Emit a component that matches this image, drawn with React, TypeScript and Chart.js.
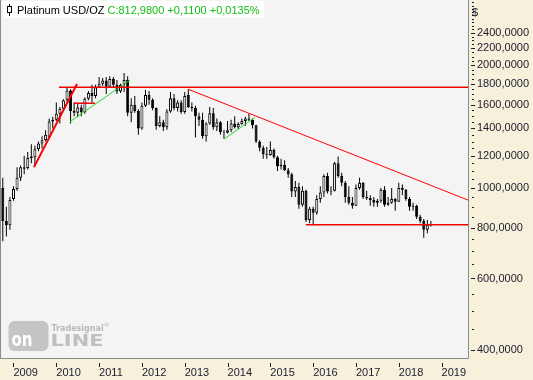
import React, { useEffect, useRef } from 'react';
import { Chart, registerables } from 'chart.js';

Chart.register(...registerables);

// ---- DATA (monthly OHLC, Oct 2008 .. Oct 2018) ----
const months = [
  '2008-10', '2008-11', '2008-12',
  '2009-01', '2009-02', '2009-03', '2009-04', '2009-05', '2009-06', '2009-07', '2009-08', '2009-09', '2009-10', '2009-11', '2009-12',
  '2010-01', '2010-02', '2010-03', '2010-04', '2010-05', '2010-06', '2010-07', '2010-08', '2010-09', '2010-10', '2010-11', '2010-12',
  '2011-01', '2011-02', '2011-03', '2011-04', '2011-05', '2011-06', '2011-07', '2011-08', '2011-09', '2011-10', '2011-11', '2011-12',
  '2012-01', '2012-02', '2012-03', '2012-04', '2012-05', '2012-06', '2012-07', '2012-08', '2012-09', '2012-10', '2012-11', '2012-12',
  '2013-01', '2013-02', '2013-03', '2013-04', '2013-05', '2013-06', '2013-07', '2013-08', '2013-09', '2013-10', '2013-11', '2013-12',
  '2014-01', '2014-02', '2014-03', '2014-04', '2014-05', '2014-06', '2014-07', '2014-08', '2014-09', '2014-10', '2014-11', '2014-12',
  '2015-01', '2015-02', '2015-03', '2015-04', '2015-05', '2015-06', '2015-07', '2015-08', '2015-09', '2015-10', '2015-11', '2015-12',
  '2016-01', '2016-02', '2016-03', '2016-04', '2016-05', '2016-06', '2016-07', '2016-08', '2016-09', '2016-10', '2016-11', '2016-12',
  '2017-01', '2017-02', '2017-03', '2017-04', '2017-05', '2017-06', '2017-07', '2017-08', '2017-09', '2017-10', '2017-11', '2017-12',
  '2018-01', '2018-02', '2018-03', '2018-04', '2018-05', '2018-06', '2018-07', '2018-08', '2018-09', '2018-10',
];

const opens = [
  1000, 830, 810,
  940, 995, 1060, 1125, 1120, 1185, 1190, 1245, 1285, 1310, 1335, 1455,
  1470, 1520, 1565, 1645, 1735, 1545, 1530, 1575, 1535, 1655, 1710, 1680,
  1765, 1800, 1835, 1770, 1850, 1790, 1725, 1790, 1840, 1530, 1600, 1545,
  1400, 1590, 1690, 1645, 1570, 1420, 1450, 1410, 1540, 1660, 1570, 1620,
  1535, 1690, 1580, 1570, 1500, 1470, 1340, 1440, 1525, 1410, 1450, 1370,
  1365, 1385, 1440, 1410, 1435, 1460, 1480, 1470, 1425, 1300, 1255, 1210,
  1205, 1240, 1190, 1130, 1140, 1105, 1080, 980, 1005, 910, 985, 835,
  890, 870, 940, 975, 1070, 980, 985, 1150, 1070, 1030, 950, 920,
  905, 1000, 1030, 950, 945, 935, 920, 930, 990, 910, 920, 940,
  925, 1000, 990, 940, 900, 905, 850, 830, 790, 809,
];

const highs = [
  1060, 900, 950,
  1010, 1125, 1135, 1200, 1225, 1280, 1270, 1300, 1340, 1385, 1480, 1495,
  1620, 1580, 1650, 1760, 1745, 1620, 1610, 1600, 1670, 1730, 1790, 1790,
  1870, 1860, 1870, 1880, 1870, 1840, 1800, 1915, 1880, 1660, 1680, 1560,
  1620, 1740, 1730, 1660, 1575, 1500, 1470, 1560, 1720, 1700, 1640, 1640,
  1720, 1745, 1620, 1590, 1530, 1530, 1450, 1580, 1570, 1480, 1460, 1390,
  1460, 1470, 1500, 1450, 1480, 1495, 1520, 1480, 1430, 1310, 1270, 1260,
  1300, 1250, 1200, 1180, 1170, 1120, 1090, 1040, 1030, 1010, 990, 900,
  900, 960, 1010, 1080, 1090, 1010, 1160, 1195, 1090, 1040, 1010, 950,
  1020, 1060, 1035, 985, 960, 950, 940, 1000, 1010, 950, 1000, 945,
  1030, 1020, 995, 950, 920, 910, 860, 840, 835, 830,
];

const lows = [
  740, 760, 790,
  930, 985, 1040, 1080, 1110, 1150, 1130, 1230, 1250, 1300, 1320, 1400,
  1460, 1440, 1550, 1620, 1440, 1500, 1490, 1500, 1520, 1640, 1620, 1660,
  1760, 1780, 1700, 1760, 1760, 1700, 1710, 1720, 1500, 1450, 1530, 1350,
  1390, 1580, 1600, 1550, 1390, 1410, 1380, 1390, 1530, 1550, 1540, 1520,
  1520, 1570, 1540, 1330, 1420, 1320, 1300, 1430, 1390, 1380, 1350, 1320,
  1360, 1370, 1400, 1395, 1430, 1420, 1460, 1400, 1290, 1230, 1180, 1180,
  1200, 1180, 1100, 1110, 1100, 1060, 950, 950, 890, 900, 825, 820,
  810, 860, 920, 950, 970, 960, 980, 1060, 1010, 920, 910, 890,
  905, 990, 940, 935, 905, 900, 900, 920, 900, 905, 915, 880,
  925, 960, 930, 880, 880, 840, 820, 755, 775, 805,
];

const closes = [
  830, 810, 935,
  995, 1060, 1125, 1115, 1185, 1195, 1245, 1285, 1310, 1350, 1455, 1470,
  1520, 1565, 1640, 1735, 1545, 1530, 1575, 1535, 1655, 1710, 1680, 1765,
  1800, 1835, 1770, 1850, 1790, 1725, 1790, 1840, 1530, 1600, 1545, 1400,
  1590, 1690, 1645, 1570, 1420, 1450, 1410, 1540, 1660, 1570, 1620, 1535,
  1680, 1580, 1570, 1500, 1470, 1340, 1440, 1525, 1410, 1450, 1370, 1365,
  1385, 1440, 1410, 1435, 1460, 1480, 1470, 1425, 1300, 1255, 1210, 1205,
  1240, 1190, 1130, 1140, 1105, 1080, 980, 1005, 910, 985, 835, 890,
  870, 940, 975, 1070, 980, 985, 1150, 1070, 1030, 950, 920, 905,
  1000, 1030, 950, 945, 935, 920, 930, 990, 910, 920, 940, 925,
  1000, 990, 940, 900, 905, 850, 830, 790, 813, 813,
];

const yearLabels = ['2009', '2010', '2011', '2012', '2013', '2014', '2015', '2016', '2017', '2018', '2019'];
// month index (from Oct 2008) of January of each year
const yearTickIndex = [3, 15, 27, 39, 51, 63, 75, 87, 99, 111, 123];

const priceLabels = [400, 600, 800, 1000, 1200, 1400, 1600, 1800, 2000, 2200, 2400];
const priceMinorStep = 50;

// drawn trend lines (x = month index, y = price)
const upTrend = [{ x: 8.74, y: 1125 }, { x: 20.8, y: 1799 }];
const topResistance = [{ x: 15.75, y: 1766 }, { x: 130.4, y: 1766 }];
const shortLevel = [{ x: 19.95, y: 1614 }, { x: 25.84, y: 1614 }];
const greenTrend1 = [{ x: 18.83, y: 1454 }, { x: 35.65, y: 1840 }];
const downTrend = [{ x: 51.99, y: 1746 }, { x: 130.4, y: 934 }];
const greenTrend2 = [{ x: 62.0, y: 1318 }, { x: 70.7, y: 1489 }];
const bottomSupport = [{ x: 84.98, y: 813 }, { x: 130.4, y: 813 }];

const titleMain = 'Platinum USD/OZ';
const titleQuote = 'C:812,9800 +0,1100 +0,0135%';

const PANEL_BG = '#f7f0da';
const PLOT_BG = '#f4f4f4';
const TEXT = '#1b1b30';
const FONT = '"Liberation Sans", Arial, sans-serif';

function fitText(ctx: CanvasRenderingContext2D, text: string, x: number, y: number, w: number) {
  const m = ctx.measureText(text).width;
  ctx.save();
  ctx.translate(x, y);
  ctx.scale(w / m, 1);
  ctx.fillText(text, 0, 0);
  ctx.restore();
}

const decor = {
  id: 'decor',
  beforeDraw(chart: any) {
    const { ctx, chartArea: a, width, height } = chart;
    ctx.save();
    ctx.fillStyle = PANEL_BG;
    ctx.fillRect(0, 0, width, height);
    ctx.fillStyle = PLOT_BG;
    ctx.fillRect(0, a.top, a.right, a.bottom - a.top);
    ctx.restore();
  },
  beforeDatasetsDraw(chart: any) {
    const { ctx, chartArea: a } = chart;
    ctx.save();
    const bx = a.left + 7.5;
    const by = a.bottom - 37;
    ctx.fillStyle = '#c5c5c5';
    ctx.beginPath();
    (ctx as any).roundRect(bx, by, 40, 30, 6);
    ctx.fill();
    ctx.fillStyle = '#ffffff';
    ctx.font = 'bold 20px "DejaVu Sans"';
    fitText(ctx, 'on', bx + 3, by + 25, 21);
    ctx.fillStyle = '#c0c0c0';
    ctx.font = 'bold 15px "DejaVu Sans"';
    fitText(ctx, 'LINE', bx + 42, by + 25, 53);
    ctx.fillStyle = '#b8b8b8';
    ctx.font = 'bold 8px "DejaVu Sans"';
    ctx.fillText('Tradesignal', bx + 43, by + 10);
    const tw = ctx.measureText('Tradesignal').width;
    ctx.font = '6px "DejaVu Sans"';
    ctx.fillText('®', bx + 43 + tw, by + 6);
    ctx.restore();
  },
  afterDraw(chart: any) {
    const { ctx, chartArea: a, scales } = chart;
    ctx.save();
    // borders
    ctx.strokeStyle = '#8a8a8a';
    ctx.lineWidth = 1;
    ctx.beginPath();
    ctx.moveTo(0.5, a.top);
    ctx.lineTo(0.5, a.bottom + 0.5);
    ctx.lineTo(a.right + 0.5, a.bottom + 0.5);
    ctx.lineTo(a.right + 0.5, a.top);
    ctx.stroke();
    // y tick marks
    ctx.strokeStyle = TEXT;
    const ys = scales.y;
    for (const t of ys.ticks) {
      const py = Math.round(ys.getPixelForValue(t.value)) + 0.5;
      const major = priceLabels.includes(t.value);
      ctx.beginPath();
      ctx.moveTo(a.right + (major ? 3 : 4), py);
      ctx.lineTo(a.right + (major ? 7 : 6), py);
      ctx.stroke();
    }
    // x tick marks
    const xs = scales.x;
    for (const t of xs.ticks) {
      const px = Math.round(xs.getPixelForValue(t.value)) + 0.5;
      ctx.beginPath();
      ctx.moveTo(px, a.bottom + 5);
      ctx.lineTo(px, a.bottom + 9);
      ctx.stroke();
    }
    // $ label
    ctx.fillStyle = TEXT;
    ctx.font = `11px ${FONT}`;
    ctx.textBaseline = 'alphabetic';
    ctx.fillText('$', a.right + 4, 16);
    // title box
    ctx.fillStyle = '#ffffff';
    ctx.fillRect(3, 1, 261, 17);
    ctx.strokeStyle = '#000000';
    ctx.beginPath();
    ctx.moveTo(9.5, 4);
    ctx.lineTo(9.5, 16);
    ctx.stroke();
    ctx.fillStyle = '#ffffff';
    ctx.fillRect(7.5, 6.5, 4, 6);
    ctx.strokeRect(7.5, 6.5, 4, 6);
    ctx.font = `11px ${FONT}`;
    ctx.fillStyle = '#000000';
    ctx.fillText(titleMain, 17, 14);
    const w = ctx.measureText(titleMain + ' ').width;
    ctx.fillStyle = '#12bf12';
    ctx.fillText(titleQuote, 17 + w, 14);
    ctx.restore();
  },
};

export default function App() {
  const ref = useRef<HTMLCanvasElement>(null);
  useEffect(() => {
    document.body.style.margin = '0';
    const canvas = ref.current!;
    const idx = months.map((_, i) => i);
    const wickData = idx.map((i) => ({ x: i, y: [lows[i], highs[i]] }));
    const bodyData = idx.map((i) => ({ x: i, y: [opens[i], closes[i]] }));
    const bodyColors = idx.map((i) => (closes[i] < opens[i] ? '#000000' : '#ffffff'));

    const minorTicks: number[] = [];
    for (let v = 400; v <= 2850; v += priceMinorStep) minorTicks.push(v);

    const lineDs = (data: any[], color: string, width: number) => ({
      type: 'line' as const,
      data,
      borderColor: color,
      borderWidth: width,
      pointRadius: 0,
      fill: false,
      tension: 0,
      order: 0,
    });

    const chart = new Chart(canvas, {
      type: 'bar',
      data: {
        datasets: [
          {
            data: wickData as any,
            backgroundColor: '#000000',
            borderWidth: 0,
            barThickness: 1,
            grouped: false,
            inflateAmount: 0,
            order: 2,
          } as any,
          {
            data: bodyData as any,
            backgroundColor: bodyColors,
            borderColor: '#000000',
            borderWidth: 1,
            borderSkipped: false,
            barThickness: 3,
            grouped: false,
            inflateAmount: 0,
            order: 1,
          } as any,
          lineDs(upTrend, '#ff0000', 2),
          lineDs(topResistance, '#ee0000', 1.5),
          lineDs(shortLevel, '#ee0000', 1.5),
          lineDs(greenTrend1, '#22dd22', 1),
          lineDs(downTrend, '#ff0000', 1),
          lineDs(greenTrend2, '#22dd22', 1),
          lineDs(bottomSupport, '#ee0000', 1.5),
        ] as any,
      },
      options: {
        animation: false,
        responsive: false,
        devicePixelRatio: 1,
        events: [],
        layout: { padding: { left: 1, top: 0, right: 0, bottom: 0 } },
        plugins: { legend: { display: false }, tooltip: { enabled: false }, title: { display: false } },
        scales: {
          x: {
            type: 'linear',
            min: -0.5,
            max: 130.4,
            offset: false,
            afterBuildTicks: (s: any) => {
              s.ticks = yearTickIndex.map((v) => ({ value: v }));
            },
            ticks: {
              autoSkip: false,
              maxRotation: 0,
              minRotation: 0,
              align: 'start',
              padding: 8,
              color: TEXT,
              font: { family: FONT, size: 11 },
              callback: (v: any) => {
                const k = yearTickIndex.indexOf(Number(v));
                return k >= 0 ? yearLabels[k] : '';
              },
            },
            grid: { display: false, drawTicks: false, offset: false },
            border: { display: false },
            afterFit: (s: any) => {
              s.height = 22;
              s.paddingLeft = 0;
              s.paddingRight = 0;
            },
          } as any,
          y: {
            type: 'logarithmic',
            position: 'right',
            min: 383,
            max: 2890,
            afterBuildTicks: (s: any) => {
              s.ticks = minorTicks.map((v) => ({ value: v }));
            },
            ticks: {
              autoSkip: false,
              padding: 9,
              color: TEXT,
              font: { family: FONT, size: 11 },
              callback: (v: any) => (priceLabels.includes(Number(v)) ? Number(v).toFixed(4).replace('.', ',') : ''),
            },
            grid: { display: false, drawTicks: false },
            border: { display: false },
            afterFit: (s: any) => {
              s.width = 65;
              s.paddingTop = 0;
              s.paddingBottom = 0;
            },
          } as any,
        },
      },
      plugins: [decor],
    });
    return () => chart.destroy();
  }, []);

  return (
    <div style={{ width: 533, height: 380 }}>
      <canvas ref={ref} width={533} height={380} style={{ display: 'block' }} />
    </div>
  );
}
